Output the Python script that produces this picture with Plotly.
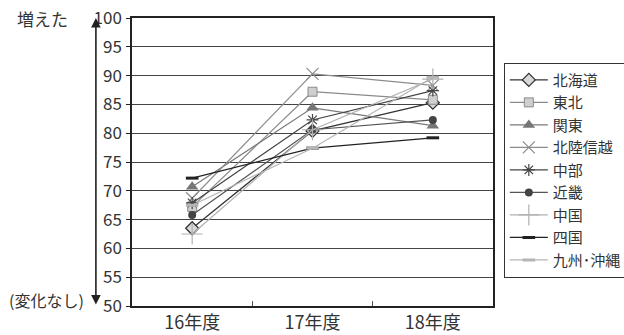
import plotly.graph_objects as go

years = ["16年度", "17年度", "18年度"]

hokkaido = [63.5, 80.4, 85.3]
tohoku = [67.2, 87.2, 85.8]
kanto = [70.7, 84.4, 81.3]
hokuriku = [68.7, 90.3, 88.3]
chubu = [67.9, 82.3, 87.4]
kinki = [65.8, 80.6, 82.3]
chugoku = [62.5, 80.6, 89.4]
shikoku = [72.2, 77.4, 79.2]
kyushu = [67.5, 77.4, 89.7]

y_ticks = [50, 55, 60, 65, 70, 75, 80, 85, 90, 95, 100]

FONT = "Noto Sans CJK JP"

series = [
    ("北海道", hokkaido, "#333333", dict(symbol="diamond", size=10, color="#d8d8d8", line=dict(color="#333333", width=1.3))),
    ("東北", tohoku, "#8a8a8a", dict(symbol="square", size=9, color="#cfcfcf", line=dict(color="#8a8a8a", width=1))),
    ("関東", kanto, "#7a7a7a", dict(symbol="triangle-up", size=11, color="#767676", line=dict(color="#767676", width=0))),
    ("北陸信越", hokuriku, "#8c8c8c", dict(symbol="x-thin-open", size=12, color="#8c8c8c", line=dict(color="#8c8c8c", width=1.2))),
    ("中部", chubu, "#444444", dict(symbol="asterisk-open", size=10, color="#444444", line=dict(color="#444444", width=1.2))),
    ("近畿", kinki, "#555555", dict(symbol="circle", size=8, color="#444444", line=dict(color="#444444", width=0))),
    ("中国", chugoku, "#b0b0b0", dict(symbol="cross-thin-open", size=15, color="#b0b0b0", line=dict(color="#b0b0b0", width=1.2))),
    ("四国", shikoku, "#222222", dict(symbol="line-ew-open", size=9, color="#222222", line=dict(color="#222222", width=3))),
    ("九州･沖縄", kyushu, "#b5b5b5", dict(symbol="line-ew-open", size=9, color="#b5b5b5", line=dict(color="#b5b5b5", width=3))),
]

fig = go.Figure()
for name, vals, lc, mk in series:
    fig.add_trace(go.Scatter(
        x=years, y=vals, name=name, mode="lines+markers",
        line=dict(color=lc, width=1.2), marker=mk,
    ))

fig.update_layout(
    width=624, height=335,
    margin=dict(l=132, r=131, t=18, b=29, autoexpand=False),
    paper_bgcolor="white", plot_bgcolor="white",
    font=dict(family=FONT, color="#333333", size=16),
    showlegend=True,
    legend=dict(
        x=1.03, y=0.845, xanchor="left", yanchor="top",
        bordercolor="#333333", borderwidth=1,
        font=dict(family=FONT, size=15, color="#333333"),
        tracegroupgap=0, itemwidth=38,
    ),
)

fig.update_xaxes(
    type="category", range=[-0.5, 2.5], automargin=False,
    showgrid=False, showline=True, linecolor="#222222", linewidth=1.5,
    mirror=True, ticks="inside", tickson="boundaries", ticklen=5,
    tickcolor="#555555", tickfont=dict(size=18, color="#333333"),
)
fig.update_yaxes(
    range=[50, 100], tickvals=y_ticks, showgrid=True, automargin=False,
    gridcolor="#444444", gridwidth=1.2,
    showline=True, linecolor="#222222", linewidth=1.5, mirror=True,
    ticks="outside", ticklen=4, tickcolor="#222222",
    tickfont=dict(size=17, color="#333333"), ticklabelstandoff=1,
    zeroline=False,
)

# double-headed arrow next to the value axis
fig.add_annotation(
    x=-0.1, y=1.0, xref="paper", yref="paper",
    ax=0, ay=288, axref="pixel", ayref="pixel",
    text="", showarrow=True, arrowhead=2, arrowside="end+start",
    arrowsize=1.2, arrowwidth=1.6, arrowcolor="#222222",
)
fig.add_annotation(
    x=-0.172, y=1.0, xref="paper", yref="paper", xanchor="right", yanchor="middle",
    text="増えた", showarrow=False, font=dict(size=17, color="#333333"),
)
fig.add_annotation(
    x=-0.128, y=0.02, xref="paper", yref="paper", xanchor="right", yanchor="middle",
    text="(変化なし)", showarrow=False, font=dict(size=16, color="#333333"),
)

fig.write_html("out.html")
